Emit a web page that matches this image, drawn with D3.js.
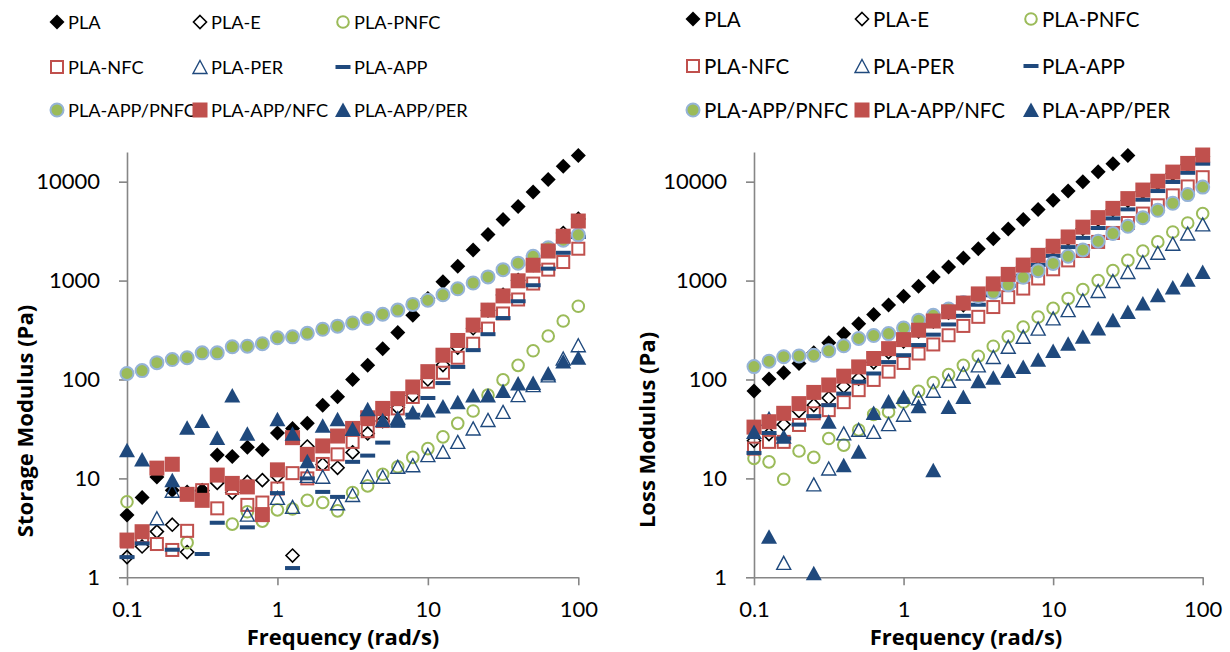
<!DOCTYPE html>
<html>
<head>
<meta charset="utf-8">
<title>Storage and Loss Modulus</title>
<script src="https://d3js.org/d3.v7.min.js"></script>
<style>
    body { margin: 0; background: #fff; }
    svg text { font-family: Lato, 'Open Sans', sans-serif; fill: #000; }
    svg text.title { font-family: 'Open Sans', Lato, sans-serif; font-weight: bold; font-size: 22px; }
</style>
</head>
<body>
<svg id="chart" width="1230" height="652"></svg>

<script>
    // frequency sweep, rad/s (10 points per decade)
    var freq = [0.1, 0.126, 0.158, 0.2, 0.251, 0.316, 0.398, 0.501, 0.631, 0.794,
                1, 1.26, 1.58, 2, 2.51, 3.16, 3.98, 5.01, 6.31, 7.94,
                10, 12.6, 15.8, 20, 25.1, 31.6, 39.8, 50.1, 63.1, 79.4, 100];
    var xTicks = [0.1, 1, 10, 100];
    var yTicks = [1, 10, 100, 1000, 10000];
    var names = ['PLA', 'PLA-E', 'PLA-PNFC', 'PLA-NFC', 'PLA-PER', 'PLA-APP',
                 'PLA-APP/PNFC', 'PLA-APP/NFC', 'PLA-APP/PER'];

    // storage modulus G' (Pa)
    var sPLA      = [4.26, 6.4, 10.3, 7.6, 7.3, 7.6, 17.2, 16.6, 20.7, 19.5, 28.8, 32, 36, 55, 67, 100, 139, 205, 299, 445, 660, 975, 1400, 2040, 2920, 4150, 5620, 7860, 10500, 14300, 18400];
    var sPLA_E    = [1.6, 2.05, 2.9, 3.4, 1.8, 7.5, 9, 7.2, 9.2, 9.6, 10.5, 1.66, 21, 13.8, 12.8, 18.3, 28.5, 38, 52, 69, 100, 140, 210, 330, 500, 716, 1010, 1440, 2090, 3020, 4200];
    var sPNFC     = [5.8, null, null, null, 2.24, null, null, 3.45, 4.6, 3.7, 4.8, 4.9, 6.0, 5.7, 4.7, 7.2, 8.4, 11.0, 13.1, 16.3, 20, 26.3, 36, 48, 69.5, 99, 139, 195, 275, 390, 550];
    var sNFC      = [2.3, 2.6, 2.17, 1.89, 2.95, 7.6, 4.98, 8, 5.4, 5.7, 7.9, 11.3, 10, 14, 17.5, 23.4, 30, 38, 51, 66.6, 95, 117, 166, 230, 327, 465, 644, 933, 1290, 1540, 2100];
    var sPER      = [null, null, 3.95, 7.5, null, null, null, null, 4.3, null, 6.35, 5.15, 10.6, 10.4, 5.6, 6.8, 10.4, 10.4, 13.1, 13.6, 17.2, 18.6, 23.4, 32, 39, 47, 69.5, 87.6, 110, 163, 222];
    var sAPP      = [1.6, 2.2, null, 1.9, null, 1.72, 3.56, null, 3.2, null, 7.1, 1.24, 10, 7.3, 6.5, 14.7, 17, 23, 34, 44, 65, 92, 134, 198, 287, 418, 618, 897, 1320, 1910, 2760];
    var sAPP_PNFC = [115, 123, 148, 159, 166, 186, 186, 214, 217, 230, 264, 270, 293, 322, 346, 373, 414, 457, 503, 574, 633, 718, 827, 945, 1090, 1290, 1500, 1760, 2150, 2560, 2900];
    var sAPP_NFC  = [2.38, 2.89, 12.7, 13.9, 6.9, 6.0, 10.8, 8.9, 8.2, 4.3, 12.2, 25.8, 17.5, 21.3, 26.8, 32, 41, 51, 64, 84, 120, 176, 248, 355, 503, 700, 995, 1430, 1990, 2810, 4000];
    var sAPP_PER  = [19.2, 15.5, null, 9.6, 32.5, 38, 25.6, 69, 28.3, null, 39.7, 28.2, 14.9, 34, 39.7, 31.5, 50, 38.8, 41, 46.5, 48.6, 53.2, 59, 69, 69, 76.7, 91, 92.4, 115, 152, 166];

    // loss modulus G'' (Pa)
    var lPLA      = [76.7, 101, 117, 145, 186, 235, 290, 366, 455, 565, 695, 875, 1090, 1370, 1690, 2100, 2650, 3320, 4150, 5220, 6480, 8040, 10000, 12600, 15200, 18400, null, null, null, null, null];
    var lPLA_E    = [24, 28, 35, 48, 55, 65, 85, 102, 149, 189, 243, 307, 388, 475, 566, 700, 880, 1100, 1380, 1720, 2150, 2650, 3350, 4150, 5200, 6450, 7900, 9700, 12000, 14800, 18000];
    var lPNFC     = [15.9, 14.7, 9.8, 18.9, 16.3, 25.3, 21.7, 30.9, 44.4, 47, 59.2, 76, 93, 112, 139, 172, 217, 270, 339, 428, 523, 660, 812, 1000, 1260, 1600, 1990, 2460, 3100, 3820, 4760];
    var lNFC      = [20, 23.4, 23.4, 34.7, 45.5, 49, 59, 78, 99, 120, 147, 183, 226, 280, 348, 430, 540, 680, 830, 1050, 1300, 1600, 1990, 2460, 3030, 3820, 4760, 5770, 7270, 8950, 11100];
    var lPER      = [null, 40, 1.4, null, 8.7, 12.6, 28.5, 31, 29.5, 35.4, 44, 64.5, 77, 97, 115, 139, 169, 214, 270, 327, 415, 503, 633, 785, 990, 1220, 1540, 1910, 2360, 2990, 3700];
    var lAPP      = [18.1, 28.8, 25.3, 35, 42.6, 55, 72, 95, 115, 150, 176, 223, 284, 360, 440, 570, 710, 885, 1120, 1440, 1780, 2180, 2700, 3400, 4250, 5250, 6570, 8040, 9930, 12300, 15200];
    var lAPP_PNFC = [135, 153, 170, 173, 176, 195, 219, 260, 278, 291, 332, 398, 445, 516, 600, 690, 760, 905, 1080, 1260, 1490, 1760, 2040, 2500, 2990, 3540, 4330, 5140, 6050, 7400, 8810];
    var lAPP_NFC  = [33, 37.4, 45.5, 57, 74, 88, 108, 134, 163, 205, 253, 315, 390, 483, 592, 733, 926, 1155, 1435, 1800, 2225, 2760, 3470, 4330, 5370, 6740, 8230, 10100, 12500, 15300, 18600];
    var lAPP_PER  = [29.5, 2.57, 26.3, null, 1.1, 37.4, 13.6, 18.6, 45.8, 60, 66.6, 53.5, 12.1, 52.7, 66.6, 96, 104, 122, 134, 158, 194, 230, 270, 327, 398, 480, 585, 710, 850, 1020, 1220];

    var storage = [sPLA, sPLA_E, sPNFC, sNFC, sPER, sAPP, sAPP_PNFC, sAPP_NFC, sAPP_PER];
    var loss = [lPLA, lPLA_E, lPNFC, lNFC, lPER, lAPP, lAPP_PNFC, lAPP_NFC, lAPP_PER];

    var red = '#c0504d', navy = '#1f497d', green = '#9bbb59';
    var markerTypes = ['diamondFill', 'diamondOpen', 'circleOpen', 'squareOpen', 'triangleOpen',
                       'dash', 'circleFill', 'squareFill', 'triangleFill'];

    function drawMarker(g, type) {
        if (type == 'diamondFill') {
            g.append('path').attr('d', 'M0,-7.5L7.5,0L0,7.5L-7.5,0Z').attr('fill', '#000');
        } else if (type == 'diamondOpen') {
            g.append('path').attr('d', 'M0,-6.5L6.5,0L0,6.5L-6.5,0Z')
                .attr('fill', 'none').attr('stroke', '#000').attr('stroke-width', 1.6);
        } else if (type == 'circleOpen') {
            g.append('circle').attr('r', 5.8)
                .attr('fill', 'none').attr('stroke', green).attr('stroke-width', 2);
        } else if (type == 'squareOpen') {
            g.append('rect').attr('x', -6).attr('y', -6).attr('width', 12).attr('height', 12)
                .attr('fill', 'none').attr('stroke', red).attr('stroke-width', 2);
        } else if (type == 'triangleOpen') {
            g.append('path').attr('d', 'M0,-6.5L7,6.5L-7,6.5Z')
                .attr('fill', 'none').attr('stroke', navy).attr('stroke-width', 1.4);
        } else if (type == 'dash') {
            g.append('rect').attr('x', -7.5).attr('y', -2).attr('width', 15).attr('height', 4)
                .attr('fill', navy);
        } else if (type == 'circleFill') {
            g.append('circle').attr('r', 6.5)
                .attr('fill', green).attr('stroke', '#95b3d7').attr('stroke-width', 2);
        } else if (type == 'squareFill') {
            g.append('rect').attr('x', -7.5).attr('y', -7.5).attr('width', 15).attr('height', 15)
                .attr('fill', red);
        } else if (type == 'triangleFill') {
            g.append('path').attr('d', 'M0,-7.5L8,7L-8,7Z').attr('fill', navy);
        }
    }

    var svg = d3.select('#chart');

    function drawPanel(p) {
        var x = d3.scaleLog().domain([0.1, 100]).range([p.left, p.right]);
        var y = d3.scaleLog().domain([1, 20000]).range([577.3, 151.9]);

        var xAxis = svg.append('g')
            .attr('transform', 'translate(0,' + y(1) + ')')
            .call(d3.axisBottom(x).tickValues(xTicks).tickSizeInner(8).tickSizeOuter(0).tickPadding(16)
                .tickFormat(function(d) { return d < 1 ? '0.1' : d3.format('d')(d); }));

        var yAxis = svg.append('g')
            .attr('transform', 'translate(' + p.left + ',0)')
            .call(d3.axisLeft(y).tickValues(yTicks).tickSizeInner(8).tickSizeOuter(0).tickPadding(19)
                .tickFormat(d3.format('d')));

        [xAxis, yAxis].forEach(function(a) {
            a.select('.domain').attr('stroke', '#868686').attr('stroke-width', 1.6);
            a.selectAll('.tick line').attr('stroke', '#868686').attr('stroke-width', 1.6);
            a.selectAll('.tick text').style('font-size', '22px').attr('fill', '#000');
        });

        // series, in legend order so later ones are drawn on top
        p.data.forEach(function(vals, s) {
            var pts = [];
            vals.forEach(function(v, i) { if (v != null) pts.push([freq[i], v]); });
            var layer = svg.append('g');
            pts.forEach(function(d) {
                var g = layer.append('g').attr('transform', 'translate(' + x(d[0]) + ',' + y(d[1]) + ')');
                drawMarker(g, markerTypes[s]);
            });
        });

        svg.append('text')
            .attr('class', 'title')
            .attr('x', p.xTitleX).attr('y', 645)
            .attr('text-anchor', 'middle')
            .text('Frequency (rad/s)');

        svg.append('text')
            .attr('class', 'title')
            .attr('transform', 'translate(' + p.yTitleX + ',' + p.yTitleY + ') rotate(-90)')
            .attr('text-anchor', 'middle').attr('dominant-baseline', 'central')
            .text(p.yTitle);

        // legend
        names.forEach(function(name, s) {
            var row = Math.floor(s / 3), col = s % 3;
            var mx = p.legX[col], my = p.legY[row];
            var g = svg.append('g').attr('transform', 'translate(' + mx + ',' + my + ')');
            drawMarker(g, markerTypes[s]);
            svg.append('text')
                .attr('x', mx + 11).attr('y', my)
                .attr('dominant-baseline', 'central')
                .style('font-size', p.legFont + 'px')
                .text(name);
        });
    }

    drawPanel({
        left: 127, right: 578.3, data: storage,
        yTitle: 'Storage Modulus (Pa)', yTitleX: 24, yTitleY: 421, xTitleX: 343,
        legX: [57, 200, 343], legY: [22, 67, 110], legFont: 18.2
    });

    drawPanel({
        left: 754, right: 1202.7, data: loss,
        yTitle: 'Loss Modulus (Pa)', yTitleX: 646, yTitleY: 430, xTitleX: 966,
        legX: [693, 862, 1031], legY: [19, 66, 110], legFont: 20.5
    });
</script>
</body>
</html>
